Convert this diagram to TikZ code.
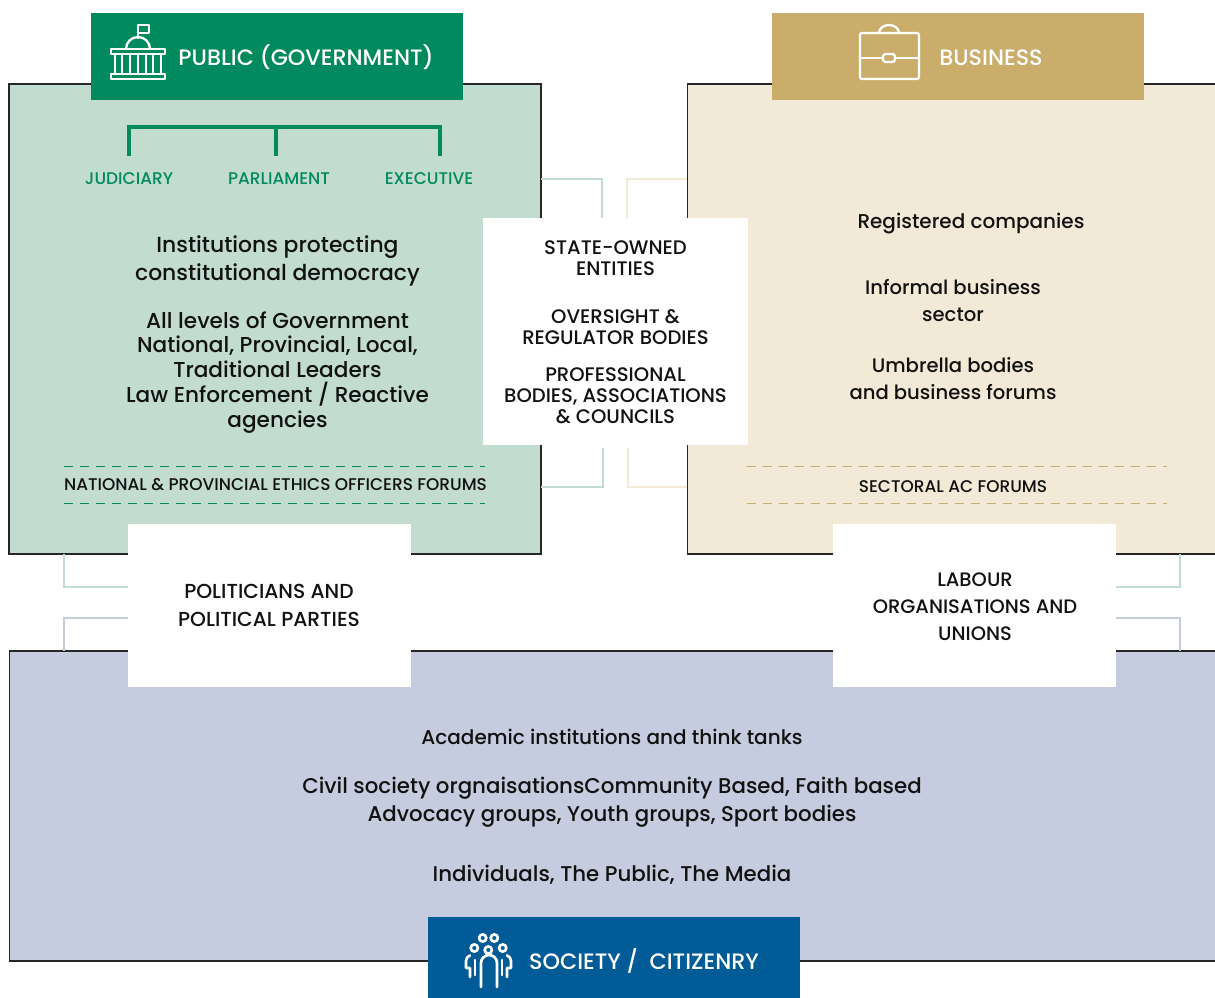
\documentclass[tikz,border=0pt]{standalone}
\usepackage{fontspec}
\setmainfont[UprightFont=* Medium]{Poppins}

\definecolor{publicfill}{HTML}{C2DCD0}
\definecolor{businessfill}{HTML}{F2E9D7}
\definecolor{societyfill}{HTML}{C6CCDF}
\definecolor{publichead}{HTML}{008A5E}
\definecolor{businesshead}{HTML}{CAAD6B}
\definecolor{societyhead}{HTML}{005B96}
\definecolor{bodytext}{HTML}{111111}

\tikzset{
    panel/.style={draw=black!85, line width=0.8pt, inner sep=0, outer sep=0},
    whitebox/.style={fill=white, inner sep=0, outer sep=0},
    headbox/.style={inner sep=0, outer sep=0, minimum width=279pt},
    headtext/.style={text=white, inner sep=0, font=\fontsize{16.7}{18}\selectfont},
    bodynode/.style={text=bodytext, inner sep=0, align=center},
    bigtext/.style={bodynode, font=\fontsize{16}{21}\selectfont},
    listtext/.style={bodynode, font=\fontsize{16.2}{18.7}\selectfont},
    bustext/.style={bodynode, font=\fontsize{14.7}{20.25}\selectfont},
    captext/.style={bodynode, font=\fontsize{14.7}{15.8}\selectfont},
    smallcap/.style={bodynode, font=\fontsize{12.7}{14}\selectfont},
    branchtext/.style={text=publichead, inner sep=0, font=\fontsize{12.7}{14}\selectfont},
    link/.style={line width=2.2pt},
    icon/.style={draw=white, line width=1.7pt, line join=round, line cap=round},
    dashrule/.style={line width=0.75pt, dash pattern=on 7pt off 5pt}
}

\begin{document}
\begin{tikzpicture}[x=0.75pt, y=-0.75pt]
    \clip (0,0) rectangle (1215,998);

    % panels
    \node[panel, fill=publicfill, minimum width=399pt, minimum height=352.5pt] (public) at (275,319) {};
    \node[panel, fill=businessfill, minimum width=398pt, minimum height=352.5pt] (business) at (952.5,319) {};
    \node[panel, fill=societyfill, minimum width=908pt, minimum height=232.5pt] (society) at (614.5,806) {};

    % free ends of the links
    \coordinate (stateleft) at (602,218);
    \coordinate (stateright) at (627,218);
    \coordinate (bodyleft) at (603,448);
    \coordinate (bodyright) at (628,448);
    \coordinate (politup) at (129,587);
    \coordinate (politdown) at (129,618);
    \coordinate (labourup) at (1115,587);
    \coordinate (labourdown) at (1115,618);
    \coordinate (publicfoot) at (64,554);
    \coordinate (societyleft) at (64,651);
    \coordinate (businessfoot) at (1180,554);
    \coordinate (societyright) at (1180,651);

    % links
    \draw[link, publicfill] (public.east |- 0,179) -| (stateleft);
    \draw[link, businessfill] (business.west |- 0,179) -| (stateright);
    \draw[link, publicfill] (public.east |- 0,487) -| (bodyleft);
    \draw[link, businessfill] (business.west |- 0,487) -| (bodyright);
    \draw[link, publicfill] (publicfoot) |- (politup);
    \draw[link, societyfill] (societyleft) |- (politdown);
    \draw[link, publicfill] (businessfoot) |- (labourup);
    \draw[link, societyfill] (societyright) |- (labourdown);

    % white boxes
    \node[whitebox, minimum width=198.75pt, minimum height=170.25pt] (middle) at (615.5,331.5) {};
    \node[whitebox, minimum width=212.25pt, minimum height=122.25pt] (politicians) at (269.5,605.5) {};
    \node[whitebox, minimum width=212.25pt, minimum height=122.25pt] (labour) at (974.5,605.5) {};

    % headers
    \node[headbox, fill=publichead, minimum height=65.25pt] (publichd) at (277,56.5) {};
    \node[headbox, fill=businesshead, minimum height=65.25pt] (businesshd) at (958,56.5) {};
    \node[headbox, fill=societyhead, minimum height=60.75pt] (societyhd) at (614,957.5) {};
    \node[headtext] (publicname) at (306,57) {PUBLIC (GOVERNMENT)};
    \node[headtext] (businessname) at (991,58) {BUSINESS};
    \node[headtext] (societyname) at (644,961) {SOCIETY /\ \ CITIZENRY};

    % building
    \draw[icon] (111,49) rectangle (165,54);
    \draw[icon] (111,74) rectangle (165,79);
    \foreach \colx in {115,122,130,138,146,153,161} {
        \draw[icon] (\colx,54) -- (\colx,74);
    }
    \draw[icon] (126,49) arc [start angle=180, end angle=360, radius=12];
    \draw[icon] (138,38) -- (138,25) -- (149,25) -- (149,33) -- (138,33);

    % briefcase
    \draw[icon, rounded corners=1.5pt] (860,33) rectangle (919,79);
    \draw[icon] (879,33) arc [start angle=180, end angle=360, x radius=10, y radius=8];
    \draw[icon] (860,58) -- (883,58);
    \draw[icon] (895,58) -- (919,58);
    \draw[icon, rounded corners=2pt] (883,54) rectangle (895,62);

    % people
    \foreach \headx/\heady in {482.7/938, 494.3/938, 474.3/948, 502.7/948, 488.3/950} {
        \draw[icon, line width=2pt] (\headx,\heady) circle [radius=3.6];
    }
    \draw[icon, line width=2pt] (481,987) -- (481,963) arc [start angle=180, end angle=360, radius=8] -- (497,987);
    \draw[icon, line width=2pt] (470,977) -- (470,968) -- (466,968) -- (466,961) arc [start angle=180, end angle=250, radius=6];
    \draw[icon, line width=2pt] (507,977) -- (507,968) -- (511,968) -- (511,961) arc [start angle=360, end angle=290, radius=6];
    \draw[icon, line width=2pt] (475,960) -- (475,975);
    \draw[icon, line width=2pt] (502,960) -- (502,975);

    % government branches
    \draw[publichead, line width=2.3pt] (129,156) -- (129,127) -- (440,127) -- (440,156);
    \draw[publichead, line width=2.3pt] (276,127) -- (276,156);
    \node[branchtext] (judiciary) at (129,179) {JUDICIARY};
    \node[branchtext] (parliament) at (279,179) {PARLIAMENT};
    \node[branchtext] (executive) at (429,179) {EXECUTIVE};

    % public text
    \node[bigtext, font=\fontsize{16.4}{21}\selectfont] (institutions) at (277.5,260.5) {Institutions protecting\\constitutional democracy};
    \node[listtext] (levels) at (277.5,372.5) {All levels of Government\\National, Provincial, Local,\\Traditional Leaders\\Law Enforcement / Reactive\\agencies};
    \draw[dashrule, publichead] (64,467) -- (485,467);
    \draw[dashrule, publichead] (64,504) -- (485,504);
    \node[smallcap] (forums) at (275.5,485) {NATIONAL \& PROVINCIAL ETHICS OFFICERS FORUMS};

    % business text
    \node[bustext, font=\fontsize{15}{20.25}\selectfont] (registered) at (971,224) {Registered companies};
    \node[bustext] (informal) at (953,300.5) {Informal business\\sector};
    \node[bustext] (umbrella) at (953,378.5) {Umbrella bodies\\and business forums};
    \draw[dashrule, businesshead] (747,467) -- (1167,467);
    \draw[dashrule, businesshead] (747,504) -- (1167,504);
    \node[smallcap] (sectoral) at (953,487) {SECTORAL AC FORUMS};

    % middle text
    \node[captext] (stateowned) at (615.5,258.5) {STATE-OWNED\\ENTITIES};
    \node[captext] (oversight) at (615.5,327) {OVERSIGHT \&\\REGULATOR BODIES};
    \node[captext] (professional) at (615.5,396) {PROFESSIONAL\\BODIES, ASSOCIATIONS\\\& COUNCILS};

    % politicians and labour text
    \node[captext, font=\fontsize{15.2}{20.9}\selectfont] (parties) at (269,605.5) {POLITICIANS AND\\POLITICAL PARTIES};
    \node[captext, font=\fontsize{14.6}{20.2}\selectfont] (unions) at (975,607) {LABOUR\\ORGANISATIONS AND\\UNIONS};

    % society text
    \node[bustext, font=\fontsize{15}{20.25}\selectfont] (academic) at (612,737) {Academic institutions and think tanks};
    \node[bigtext] (civil) at (612,802.5) {Civil society orgnaisationsCommunity Based, Faith based\\Advocacy groups, Youth groups, Sport bodies};
    \node[bigtext] (individuals) at (612,874.5) {Individuals, The Public, The Media};
\end{tikzpicture}
\end{document}
